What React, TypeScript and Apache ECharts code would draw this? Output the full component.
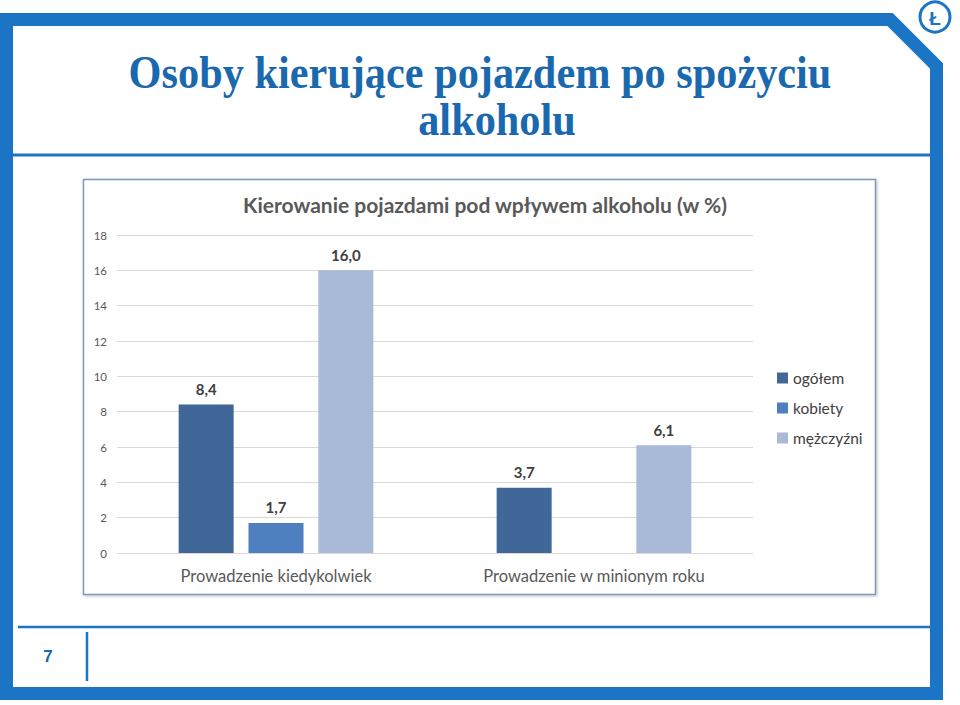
import React, { useEffect, useRef } from "react";
import * as echarts from "echarts";

const categories = ["Prowadzenie kiedykolwiek", "Prowadzenie w minionym roku"];
const seriesNames = ["ogółem", "kobiety", "mężczyźni"];
const ogolem = [8.4, 3.7];
const kobiety: (number | null)[] = [1.7, null];
const mezczyzni = [16.0, 6.1];
const seriesColors = ["#3F6899", "#4E7FBE", "#A9B9D8"];
const yTicks = { min: 0, max: 18, interval: 2 };

const slideTitle1 = "Osoby kierujące pojazdem po spożyciu";
const slideTitle2 = "alkoholu";
const chartTitle = "Kierowanie pojazdami pod wpływem alkoholu (w %)";
const pageNumber = "7";

const FONT = "Lato, 'Open Sans', sans-serif";
const BLUE = "#1B74C4";
const TITLE_BLUE = "#1A68AD";

export default function App() {
  const ref = useRef<HTMLDivElement>(null);
  useEffect(() => {
    if (!ref.current) return;
    const chart = echarts.init(ref.current, undefined, { renderer: "svg" });
    const fmt = (p: any) => (p.value == null ? "" : Number(p.value).toFixed(1).replace(".", ","));
    const data = [ogolem, kobiety, mezczyzni];
    chart.setOption({
      animation: false,
      backgroundColor: "#ffffff",
      title: {
        text: chartTitle,
        left: 480,
        textAlign: "center",
        top: 189,
        textStyle: { fontFamily: FONT, fontSize: 21, fontWeight: "bold", color: "#595959" },
      },
      legend: {
        orient: "vertical",
        left: 772,
        top: 365,
        itemWidth: 11,
        itemHeight: 11,
        itemGap: 14,
        icon: "rect",
        data: seriesNames,
        textStyle: { fontFamily: FONT, fontSize: 15.5, color: "#404040" },
      },
      grid: { left: 117, right: 207, top: 235, bottom: 152, containLabel: false },
      xAxis: {
        type: "category",
        data: categories,
        axisLine: { show: true, lineStyle: { color: "#D9D9D9", width: 1 } },
        axisTick: { show: false },
        axisLabel: { fontFamily: FONT, fontSize: 16.5, color: "#595959", margin: 14 },
      },
      yAxis: {
        type: "value",
        min: yTicks.min,
        max: yTicks.max,
        interval: yTicks.interval,
        axisLine: { show: false },
        axisTick: { show: false },
        splitLine: { lineStyle: { color: "#D9D9D9", width: 1 } },
        axisLabel: { fontFamily: FONT, fontSize: 11.5, color: "#595959", margin: 10 },
      },
      series: seriesNames.map((name, i) => ({
        name,
        type: "bar",
        data: data[i],
        barWidth: 55,
        barGap: "27%",
        itemStyle: { color: seriesColors[i] },
        label: {
          show: true,
          position: "top",
          distance: 8,
          formatter: fmt,
          fontFamily: FONT,
          fontSize: 15,
          fontWeight: "bold",
          color: "#404040",
        },
      })),
      graphic: [
        {
          type: "rect",
          z: -10,
          shape: { x: 83.5, y: 179.5, width: 792, height: 415 },
          style: { fill: "#ffffff", stroke: "#7D97BF", lineWidth: 1.5, shadowBlur: 3, shadowColor: "rgba(0,0,0,0.25)", shadowOffsetX: 1, shadowOffsetY: 1 },
        },
        {
          type: "polygon",
          z: -5,
          shape: {
            points: [
              [6.5, 19.5],
              [890, 19.5],
              [936.5, 66],
              [936.5, 693.5],
              [6.5, 693.5],
            ],
          },
          style: { fill: "none", stroke: BLUE, lineWidth: 13, lineJoin: "miter" },
        },
        {
          type: "line",
          z: -5,
          shape: { x1: 10, y1: 155, x2: 931, y2: 155 },
          style: { stroke: BLUE, lineWidth: 3 },
        },
        {
          type: "line",
          z: -5,
          shape: { x1: 18, y1: 627, x2: 931, y2: 627 },
          style: { stroke: BLUE, lineWidth: 2.5 },
        },
        {
          type: "line",
          z: -5,
          shape: { x1: 87, y1: 632, x2: 87, y2: 681 },
          style: { stroke: BLUE, lineWidth: 2.5 },
        },
        {
          type: "text",
          x: 48,
          y: 656,
          style: {
            text: pageNumber,
            fontFamily: "'Liberation Sans', Arial, sans-serif",
            fontSize: 17,
            fontWeight: "bold",
            fill: TITLE_BLUE,
            align: "center",
            verticalAlign: "middle",
          },
        },
        {
          type: "circle",
          shape: { cx: 935, cy: 17, r: 15 },
          style: { fill: "#ffffff", stroke: BLUE, lineWidth: 3 },
        },
        {
          type: "text",
          x: 935,
          y: 18,
          style: {
            text: "Ł",
            fontFamily: "'Liberation Sans', Arial, sans-serif",
            fontSize: 19,
            fontWeight: "bold",
            fill: BLUE,
            align: "center",
            verticalAlign: "middle",
          },
        },
        {
          type: "text",
          x: 480,
          y: 50,
          scaleX: 0.92,
          style: {
            text: slideTitle1,
            fontFamily: "'Liberation Serif', 'DejaVu Serif', serif",
            fontSize: 46,
            fontWeight: "bold",
            fill: TITLE_BLUE,
            align: "center",
            verticalAlign: "top",
          },
        },
        {
          type: "text",
          x: 497,
          y: 97,
          scaleX: 0.92,
          style: {
            text: slideTitle2,
            fontFamily: "'Liberation Serif', 'DejaVu Serif', serif",
            fontSize: 46,
            fontWeight: "bold",
            fill: TITLE_BLUE,
            align: "center",
            verticalAlign: "top",
          },
        },
      ],
    });
    return () => chart.dispose();
  }, []);
  return (
    <div
      ref={ref}
      style={{ position: "fixed", left: 0, top: 0, width: 960, height: 705 }}
    />
  );
}
